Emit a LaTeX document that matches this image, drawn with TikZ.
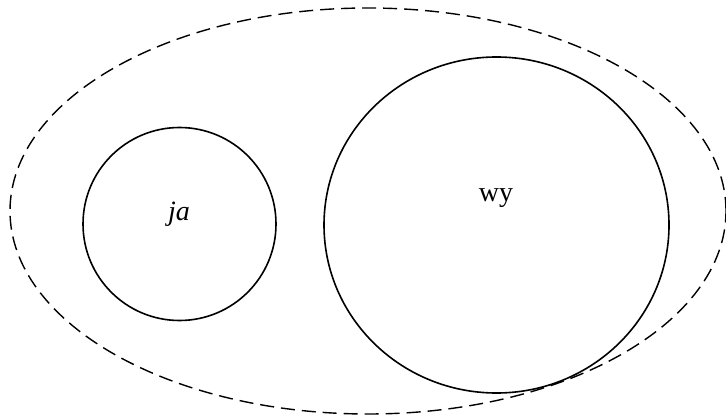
\documentclass[tikz,border=0pt]{standalone}
\usepackage{fontspec}
\setmainfont{Liberation Serif}
\usetikzlibrary{shapes.geometric}
\tikzset{
  universe/.style={draw,ellipse,dash pattern=on 7pt off 3.5pt,line width=0.7pt,inner sep=0pt},
  setring/.style={draw,ellipse,line width=0.8pt,inner sep=0pt},
  setname/.style={font=\fontsize{14}{16}\selectfont,inner sep=0pt},
}
\begin{document}
\begin{tikzpicture}[x=0.5pt,y=-0.5pt]
    \useasboundingbox (0,0) rectangle (726,416);
    % outer dashed set
    \node[universe,minimum width=358pt,minimum height=203pt] (all) at (368,211) {};
    % the two inner sets
    \node[setring,minimum width=96.5pt,minimum height=96.5pt] (ja) at (179.5,224) {};
    \node[setring,minimum width=172.5pt,minimum height=168pt] (wy) at (496.5,225) {};
    \node[setname] (janame) at (179,214) {\textit{ja}};
    \node[setname] (wyname) at (496,198) {wy};
\end{tikzpicture}
\end{document}
